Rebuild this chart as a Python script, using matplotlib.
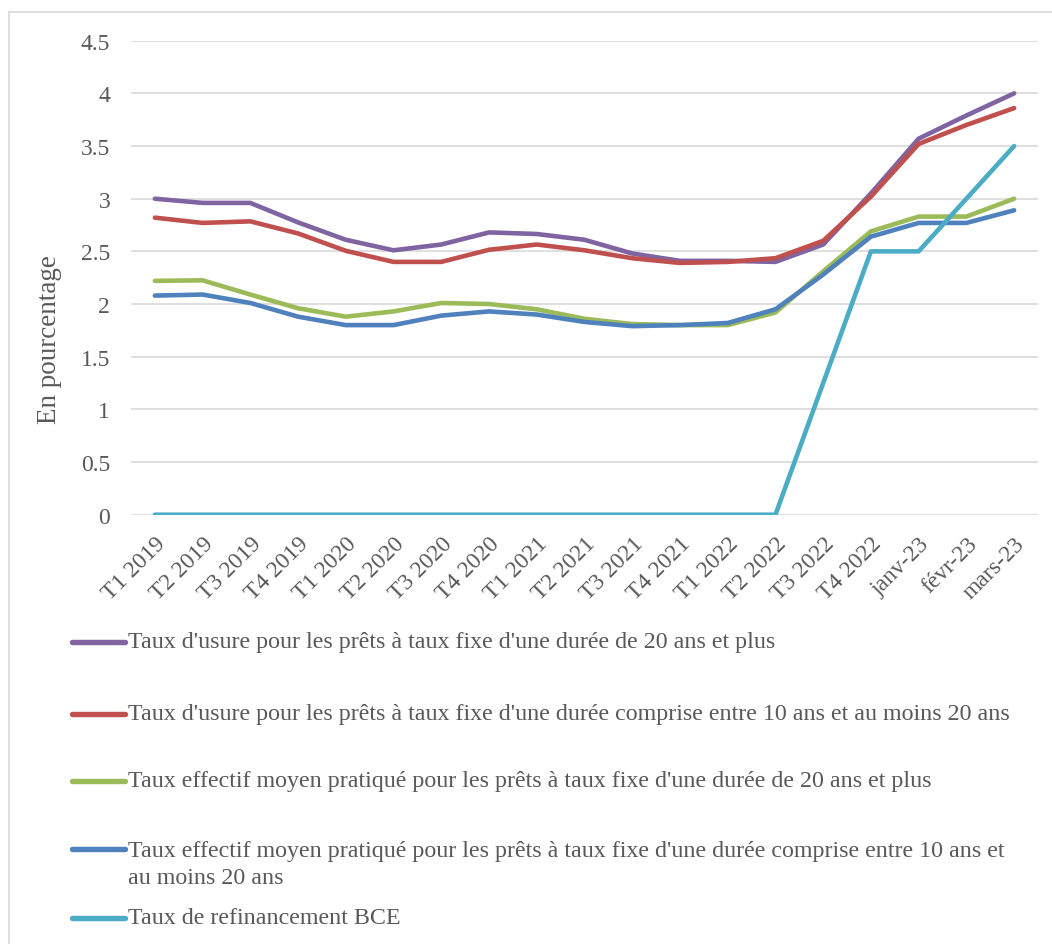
import matplotlib
matplotlib.use("Agg")
import matplotlib.pyplot as plt
from matplotlib.lines import Line2D

plt.rcParams['font.family'] = ['Liberation Serif', 'DejaVu Serif']

periodes = ["T1 2019", "T2 2019", "T3 2019", "T4 2019",
            "T1 2020", "T2 2020", "T3 2020", "T4 2020",
            "T1 2021", "T2 2021", "T3 2021", "T4 2021",
            "T1 2022", "T2 2022", "T3 2022", "T4 2022",
            "janv-23", "févr-23", "mars-23"]

usure_20_plus = [3.00, 2.96, 2.96, 2.775, 2.61, 2.51, 2.565, 2.68,
                 2.665, 2.61, 2.48, 2.41, 2.41, 2.40, 2.565, 3.05,
                 3.57, 3.79, 4.00]
usure_10_20 = [2.82, 2.77, 2.785, 2.67, 2.505, 2.40, 2.40, 2.515,
               2.565, 2.51, 2.435, 2.39, 2.40, 2.435, 2.60, 3.02,
               3.52, 3.70, 3.86]
teg_20_plus = [2.22, 2.225, 2.09, 1.96, 1.88, 1.93, 2.01, 2.00,
               1.95, 1.86, 1.81, 1.80, 1.80, 1.92, 2.31, 2.69,
               2.83, 2.83, 3.00]
teg_10_20 = [2.08, 2.09, 2.01, 1.88, 1.80, 1.80, 1.89, 1.93,
             1.90, 1.83, 1.79, 1.80, 1.82, 1.95, 2.28, 2.64,
             2.77, 2.77, 2.89]
taux_bce = [0, 0, 0, 0, 0, 0, 0, 0, 0, 0, 0, 0, 0, 0,
            1.25, 2.5, 2.5, 3.0, 3.5]

labels = ["Taux d'usure pour les prêts à taux fixe d'une durée de 20 ans et plus",
          "Taux d'usure pour les prêts à taux fixe d'une durée comprise entre 10 ans et au moins 20 ans",
          "Taux effectif moyen pratiqué pour les prêts à taux fixe d'une durée de 20 ans et plus",
          "Taux effectif moyen pratiqué pour les prêts à taux fixe d'une durée comprise entre 10 ans et\nau moins 20 ans",
          "Taux de refinancement BCE"]
couleurs = ["#8064A2", "#C0504D", "#9BBB59", "#4F81BD", "#4BACC6"]
series = [usure_20_plus, usure_10_20, teg_20_plus, teg_10_20, taux_bce]

y_ticks = [0, 0.5, 1, 1.5, 2, 2.5, 3, 3.5, 4, 4.5]
y_tick_labels = ["0", "0.5", "1", "1.5", "2", "2.5", "3", "3.5", "4", "4.5"]

W, H = 1052, 945
gris = "#595959"

fig = plt.figure(figsize=(W / 100, H / 100), dpi=100)
ax = fig.add_axes([131 / W, 1 - 515.7 / H, (1038 - 131) / W, (515.7 - 41.7) / H])

x = list(range(len(periodes)))
for vals, c in zip(series, couleurs):
    ax.plot(x, vals, color=c, lw=3.3, solid_capstyle='round', solid_joinstyle='round')

ax.set_xlim(-0.5, len(periodes) - 0.5)
ax.set_ylim(0, 4.5)
ax.set_yticks(y_ticks)
ax.set_yticklabels(y_tick_labels)
ax.set_xticks(x)
ax.set_xticklabels(periodes)
ax.grid(axis='y', color='#d9d9d9', lw=1.2)
ax.set_axisbelow(True)
for s in ax.spines.values():
    s.set_visible(False)
ax.tick_params(axis='y', length=0, pad=15, labelsize=17, labelcolor=gris)
ax.tick_params(axis='x', length=0, pad=13, labelsize=17, labelcolor=gris)
for lab in ax.get_xticklabels():
    lab.set_rotation(45)
    lab.set_ha('right')
    lab.set_va('top')
    lab.set_rotation_mode('anchor')

ax.set_ylabel("En pourcentage", fontsize=19.5, color=gris)
ax.yaxis.set_label_coords(-0.076, 0.371)

# legende
rows_y = [643, 715, 782, 850, 919]
for lab, c, ry in zip(labels, couleurs, rows_y):
    fig.add_artist(Line2D([72 / W, 125 / W], [1 - ry / H] * 2, color=c, lw=3.9,
                          solid_capstyle='round', transform=fig.transFigure))
    if "\n" in lab:
        fig.text(128.5 / W, 1 - (ry - 9) / H, lab, fontsize=17.3, color=gris,
                 va='top', ha='left', linespacing=1.4)
    else:
        fig.text(128.5 / W, 1 - ry / H, lab, fontsize=17.3, color=gris,
                 va='center', ha='left')

# cadre
fig.add_artist(Line2D([8.5 / W, 8.5 / W], [1 - 12.7 / H, 0], color='#d9d9d9', lw=1.2,
                      transform=fig.transFigure))
fig.add_artist(Line2D([8.5 / W, 1], [1 - 12.7 / H] * 2, color='#d9d9d9', lw=1.2,
                      transform=fig.transFigure))

fig.savefig("out.png", dpi=100)
